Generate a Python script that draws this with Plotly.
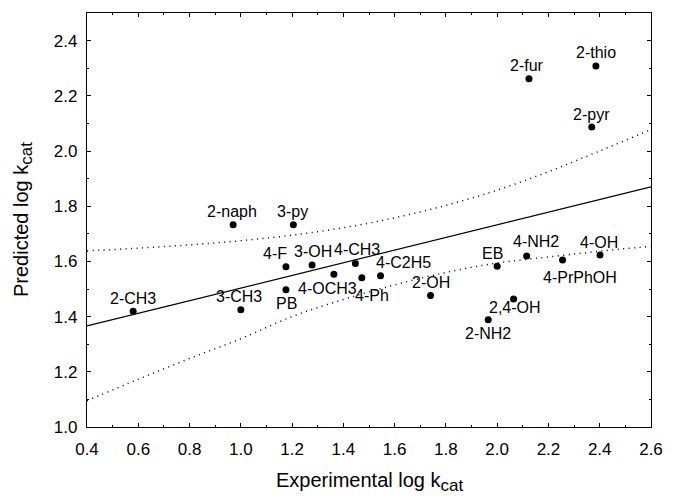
import plotly.graph_objects as go

# ---- data ----
names = ["2-CH3", "3-CH3", "4-F", "PB", "3-OH", "4-CH3", "4-OCH3", "4-Ph", "4-C2H5",
         "2-OH", "2-NH2", "EB", "4-NH2", "4-PrPhOH", "4-OH", "2,4-OH",
         "2-naph", "3-py", "2-fur", "2-thio", "2-pyr"]
experimental = [0.58, 1.00, 1.176, 1.176, 1.278, 1.447, 1.363, 1.472, 1.545,
                1.740, 1.965, 2.000, 2.115, 2.255, 2.401, 2.064,
                0.970, 1.205, 2.124, 2.385, 2.369]
predicted = [1.419, 1.425, 1.581, 1.497, 1.587, 1.592, 1.553, 1.541, 1.548,
             1.476, 1.389, 1.582, 1.620, 1.605, 1.623, 1.464,
             1.733, 1.733, 2.262, 2.308, 2.087]

fit_x = [0.4, 2.6]
fit_y = [1.366, 1.870]

band_x = [0.4, 0.6, 0.8, 1.0, 1.2, 1.4, 1.6, 1.8, 2.0, 2.2, 2.4, 2.6]
band_upper = [1.638, 1.648, 1.660, 1.675, 1.695, 1.722, 1.758, 1.803, 1.858, 1.925, 2.000, 2.078]
band_lower = [1.095, 1.173, 1.248, 1.320, 1.400, 1.462, 1.515, 1.560, 1.594, 1.616, 1.637, 1.655]

x_ticks = [0.4, 0.6, 0.8, 1.0, 1.2, 1.4, 1.6, 1.8, 2.0, 2.2, 2.4, 2.6]
y_ticks = [1.0, 1.2, 1.4, 1.6, 1.8, 2.0, 2.2, 2.4]

# label offsets (pixels) relative to each point
label_dx = [0, -2, -11, 1, 1, 2, -6, 10, 23, 0, 0, -5, 9, 17, -1, 1, -1, -1, -2, 0, 0]
label_dy = [-13, -13, -13, 14, -13, -14, 14, 18, -13, -13, 14, -13, -14, 17, -13, 9, -13, -13, -13, -13, -12]

FONT = "Arial, Liberation Sans, sans-serif"

fig = go.Figure()
band_line = dict(color="black", width=1.5, dash="1px,4.5px")
fig.add_trace(go.Scatter(x=band_x, y=band_upper, mode="lines", line_shape="spline",
                         line=band_line, hoverinfo="skip"))
fig.add_trace(go.Scatter(x=band_x, y=band_lower, mode="lines", line_shape="spline",
                         line=band_line, hoverinfo="skip"))
fig.add_trace(go.Scatter(x=fit_x, y=fit_y, mode="lines",
                         line=dict(color="black", width=1.2), hoverinfo="skip"))
fig.add_trace(go.Scatter(x=experimental, y=predicted, mode="markers",
                         marker=dict(color="black", size=7), text=names))

for n, xv, yv, dx, dy in zip(names, experimental, predicted, label_dx, label_dy):
    fig.add_annotation(x=xv, y=yv, text=n, showarrow=False, xanchor="center", yanchor="middle",
                       xshift=dx, yshift=-dy, font=dict(family=FONT, size=16, color="black"))

sub = "<sub><span style='font-size:17px'>cat</span></sub>"
fig.add_annotation(xref="paper", yref="paper", x=0.5, y=0, yanchor="middle", xanchor="center",
                   yshift=-55, showarrow=False, text="Experimental log k" + sub,
                   font=dict(family=FONT, size=20, color="black"))
fig.add_annotation(xref="paper", yref="paper", x=0, y=0.5, yanchor="middle", xanchor="center",
                   xshift=-64, showarrow=False, textangle=-90, text="Predicted log k" + sub,
                   font=dict(family=FONT, size=20, color="black"))

axis_common = dict(showline=True, linecolor="black", linewidth=1.2, mirror="allticks",
                   ticks="inside", ticklen=4, tickcolor="black", tickwidth=1,
                   showgrid=False, zeroline=False, tickformat=".1f",
                   tickfont=dict(family=FONT, size=17, color="black"),
                   minor=dict(ticks="inside", ticklen=2, dtick=0.1, tickcolor="black", showgrid=False))

fig.update_xaxes(range=[0.4, 2.6], tickvals=x_ticks, ticklabelstandoff=6, **axis_common)
fig.update_yaxes(range=[1.0, 2.5], tickvals=y_ticks, ticklabelstandoff=5, **axis_common)

fig.update_layout(width=675, height=504, margin=dict(l=87, r=12, t=12, b=77),
                  plot_bgcolor="white", paper_bgcolor="white", showlegend=False,
                  font=dict(family=FONT, color="black"))

fig.write_html("out.html")
